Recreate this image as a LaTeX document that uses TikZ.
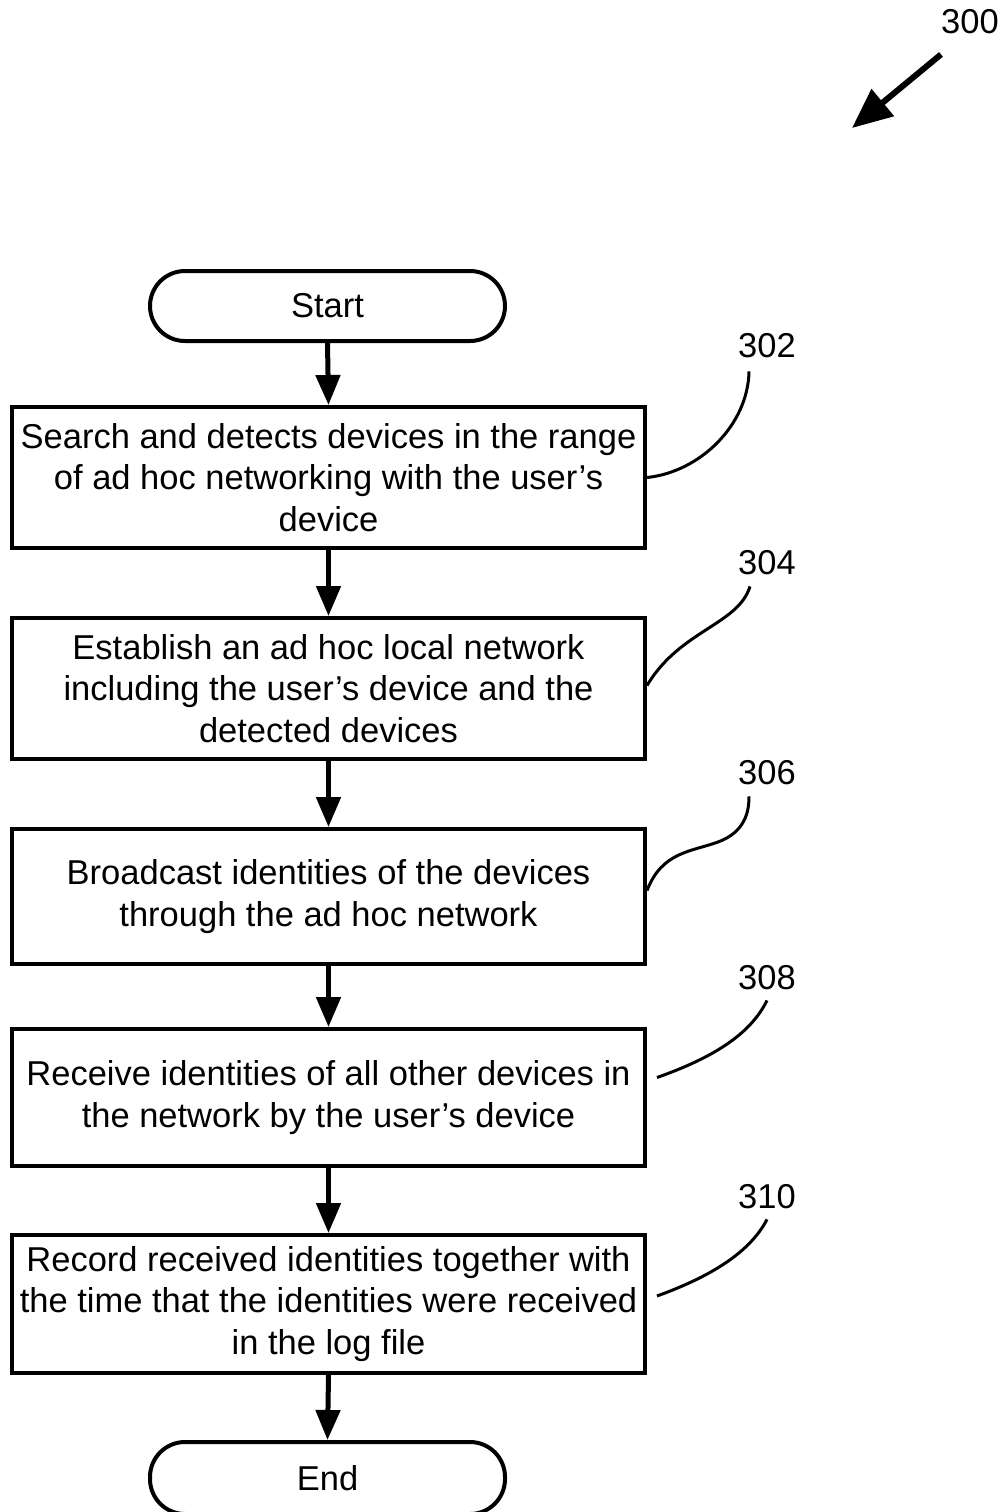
\documentclass[tikz,border=0pt]{standalone}
\usepackage{fontspec}
\setmainfont{Liberation Sans}
\usetikzlibrary{arrows.meta}
\begin{document}
\begin{tikzpicture}[x=1pt,y=-1pt,
  txt/.style={font=\fontsize{34.5}{41.5}\selectfont, align=center},
  stepbox/.style={draw, line width=4pt, rectangle, minimum width=633pt, inner sep=0pt, txt},
  term/.style={draw, line width=4pt, rectangle, rounded corners=35pt, minimum width=355pt, inner sep=0pt, txt},
  flow/.style={line width=5pt, -{Triangle[width=24pt,length=30pt]}},
  lead/.style={line width=3pt},
  num/.style={font=\fontsize{34.5}{41.5}\selectfont, inner sep=0pt}]
\useasboundingbox (0,0) rectangle (1003,1512);
\node[term, minimum height=70pt] (start) at (327.5,306) {Start};
\node[stepbox, minimum height=141pt] (b1) at (328.5,477.5) {Search and detects devices in the range\\of ad hoc networking with the user's\\device};
\node[stepbox, minimum height=141pt] (b2) at (328.5,688.5) {Establish an ad hoc local network\\including the user's device and the\\detected devices};
\node[stepbox, minimum height=135pt] (b3) at (328.5,896.5) {Broadcast identities of the devices\\through the ad hoc network};
\node[stepbox, minimum height=137pt] (b4) at (328.5,1097.5) {Receive identities of all other devices in\\the network by the user's device};
\node[stepbox, minimum height=138pt] (b5) at (328.5,1304) {Record received identities together with\\the time that the identities were received\\in the log file};
\node[term, minimum height=72pt] (end) at (327.5,1478) {End};

\draw[flow] (start.south) -- (b1.north);
\draw[flow] (b1.south) -- (b2.north);
\draw[flow] (b2.south) -- (b3.north);
\draw[flow] (b3.south) -- (b4.north);
\draw[flow] (b4.south) -- (b5.north);
\draw[flow] (b5.south) -- (end.north);

\node[num] (l300) at (970,22) {300};
\node[num] (l1) at (767,346) {302};
\node[num] (l2) at (767,563) {304};
\node[num] (l3) at (767,773) {306};
\node[num] (l4) at (767,978) {308};
\node[num] (l5) at (767,1197) {310};

\coordinate (a300) at (852,128);
\draw[line width=6pt, -{Triangle[width=34pt,length=40pt]}] ([xshift=-29pt,yshift=-20pt]l300.south) -- (a300);

\draw[lead] (b1.east) .. controls (700,472) and (748,425) .. ([xshift=-18pt,yshift=-13pt]l1.south);
\draw[lead] ([yshift=3pt]b2.east) .. controls (680,630) and (738,625) .. ([xshift=-17pt,yshift=-11pt]l2.south);
\draw[lead] ([yshift=6pt]b3.east) .. controls (662,852) and (690,852) .. (718,842) .. controls (745,832) and (749,812) .. ([xshift=-18pt,yshift=-11pt]l3.south);
\draw[lead] ([xshift=10pt,yshift=20pt]b4.east) .. controls (712,1058) and (750,1035) .. ([yshift=-10pt]l4.south);
\draw[lead] ([xshift=10pt,yshift=8pt]b5.east) .. controls (712,1276) and (750,1252) .. ([yshift=-10pt]l5.south);
\end{tikzpicture}
\end{document}
